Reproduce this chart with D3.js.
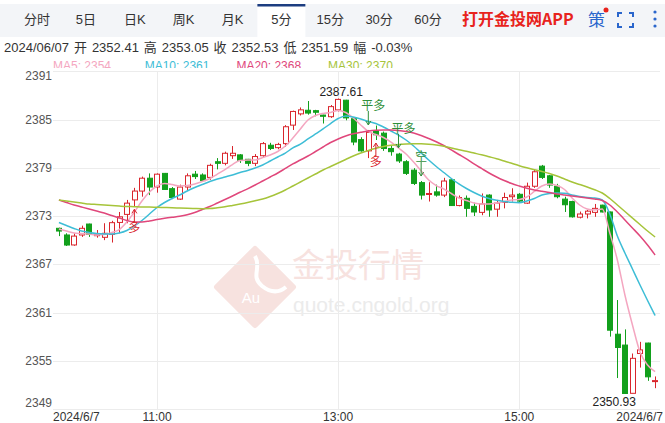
<!DOCTYPE html>
<html><head><meta charset="utf-8">
<script src="https://cdn.jsdelivr.net/npm/d3@7"></script>
<style>
body{margin:0;background:#fff;}
svg{display:block;font-family:"Liberation Sans",Arial,"Noto Sans CJK SC",sans-serif;}
</style></head><body>
<svg id="c" width="665" height="423"></svg>
<script>
const times = ["09:55","10:00","10:05","10:10","10:15","10:20","10:25","10:30","10:35","10:40","10:45","10:50","10:55",
"11:00","11:05","11:10","11:15","11:20","11:25","11:30","11:35","11:40","11:45","11:50","11:55",
"12:00","12:05","12:10","12:15","12:20","12:25","12:30","12:35","12:40","12:45","12:50","12:55",
"13:00","13:05","13:10","13:15","13:20","13:25","13:30","13:35","13:40","13:45","13:50","13:55",
"14:00","14:05","14:10","14:15","14:20","14:25","14:30","14:35","14:40","14:45","14:50","14:55",
"15:00","15:05","15:10","15:15","15:20","15:25","15:30","15:35","15:40","15:45","15:50","15:55",
"16:00","16:05","16:10","16:15","16:20","16:25","16:30"];
const open = [2371.47,2370.64,2369.40,2370.64,2372.00,2370.55,2370.35,2370.72,2372.20,2373.20,2375.00,2376.10,2377.70,2376.60,2378.30,2376.40,2375.10,2376.60,2378.20,2378.10,
2377.80,2379.75,2379.55,2380.50,2380.60,2380.05,2379.55,2380.50,2381.80,2381.50,2382.00,2384.30,2385.70,2386.15,2386.10,2385.55,2385.35,2386.20,2387.40,2385.10,
2382.50,2381.10,2383.60,2383.30,2381.40,2380.70,2379.75,2378.70,2377.15,2375.70,2376.00,2375.60,2377.50,2374.30,2375.20,2374.20,2373.45,2375.60,2373.85,2374.70,
2375.40,2375.70,2374.60,2376.70,2379.20,2378.00,2376.70,2375.10,2374.80,2372.85,2373.25,2373.45,2374.35,2373.50,2358.30,2356.95,2350.95,2355.90,2357.20,2352.41];
const high = [2371.55,2370.85,2370.85,2371.80,2372.05,2371.26,2372.10,2372.40,2373.50,2375.00,2376.50,2377.90,2378.30,2378.30,2378.35,2376.60,2376.90,2378.30,2378.60,2378.30,
2379.50,2380.20,2381.00,2381.70,2380.70,2380.10,2380.70,2382.20,2382.10,2382.10,2384.30,2386.10,2386.50,2387.30,2386.20,2385.60,2386.80,2387.61,2387.45,2385.30,
2382.80,2383.70,2384.25,2383.50,2381.70,2380.85,2379.95,2378.95,2377.35,2377.20,2376.90,2377.75,2377.70,2375.55,2375.55,2374.65,2375.80,2375.70,2375.00,2375.90,
2376.45,2375.85,2377.15,2378.80,2379.35,2378.10,2377.00,2375.40,2374.90,2373.55,2373.75,2374.50,2374.40,2373.55,2362.55,2358.90,2355.90,2357.35,2357.25,2353.05];
const low = [2370.50,2369.27,2369.30,2370.40,2370.40,2370.30,2370.00,2369.70,2370.85,2372.10,2374.20,2375.40,2375.60,2375.90,2376.30,2375.10,2375.00,2376.20,2377.60,2377.30,
2377.50,2378.80,2379.30,2380.10,2379.60,2379.20,2379.20,2380.30,2381.20,2381.30,2381.60,2383.70,2385.50,2385.60,2385.40,2384.50,2385.20,2386.00,2384.90,2381.80,
2381.00,2380.20,2382.45,2381.10,2380.50,2379.60,2378.10,2376.85,2375.05,2374.80,2375.40,2375.35,2374.25,2374.20,2372.90,2373.00,2373.10,2372.90,2372.90,2373.95,
2374.80,2374.75,2374.50,2376.50,2377.60,2376.50,2375.20,2373.50,2372.80,2372.70,2372.70,2372.90,2373.45,2358.00,2352.85,2350.93,2350.95,2354.15,2352.50,2351.59];
const close = [2371.13,2369.39,2370.50,2371.47,2370.70,2370.72,2370.85,2372.17,2372.90,2374.60,2376.10,2377.70,2376.60,2378.20,2376.30,2375.30,2376.60,2378.00,2377.90,2377.40,
2379.30,2379.55,2380.80,2380.80,2379.90,2379.55,2380.40,2382.00,2381.40,2381.90,2384.10,2386.00,2386.20,2385.80,2385.90,2385.40,2386.60,2387.50,2385.20,2382.20,
2381.10,2383.40,2383.10,2381.40,2381.00,2379.85,2378.30,2377.05,2375.60,2375.80,2375.60,2377.35,2374.30,2375.30,2373.95,2373.50,2374.50,2373.75,2374.60,2375.30,
2375.60,2374.85,2376.70,2378.50,2377.80,2376.85,2375.40,2374.40,2372.90,2373.25,2373.60,2373.95,2373.50,2358.80,2356.65,2350.93,2355.30,2356.35,2353.00,2352.53];
const ma5 = [2371.38,2371.13,2370.89,2370.82,2370.76,2370.64,2370.70,2370.95,2371.32,2372.25,2373.50,2374.87,2375.98,2376.73,2377.04,2376.92,2376.73,2376.79,2376.98,2377.29,
2377.66,2378.22,2378.78,2379.40,2379.90,2379.96,2379.96,2380.27,2380.59,2381.02,2381.70,2382.70,2383.82,2384.94,2385.50,2385.75,2385.87,2386.12,2385.87,2385.19,
2384.32,2383.51,2383.13,2382.76,2382.20,2381.46,2380.71,2379.71,2378.60,2377.48,2376.79,2376.36,2375.80,2375.24,2374.93,2374.62,2374.49,2374.49,2374.62,2374.80,
2374.99,2375.05,2375.36,2376.05,2376.73,2376.98,2376.79,2376.30,2375.24,2374.37,2373.87,2373.75,2373.87,2370.89,2367.53,2363.18,2359.45,2356.09,2354.47,2353.64];
const ma10 = [2372.19,2371.82,2371.45,2371.13,2370.95,2370.82,2370.76,2370.76,2370.89,2371.20,2371.76,2372.44,2373.25,2374.06,2374.68,2375.18,2375.61,2376.11,2376.54,2376.92,
2377.29,2377.60,2377.85,2378.10,2378.41,2378.66,2378.97,2379.34,2379.84,2380.34,2380.83,2381.46,2381.95,2382.58,2383.20,2383.82,2384.50,2385.12,2385.44,2385.31,
2385.06,2384.75,2384.50,2384.07,2383.57,2383.07,2382.45,2381.70,2380.83,2379.96,2379.16,2378.41,2377.66,2376.98,2376.42,2375.92,2375.49,2375.18,2374.95,2374.80,
2374.70,2374.65,2374.87,2375.18,2375.61,2375.80,2375.86,2375.82,2375.61,2375.42,2375.30,2375.24,2374.99,2373.25,2370.51,2368.40,2366.41,2364.42,2362.49,2360.63];
const ma20 = [2374.99,2374.68,2374.37,2374.12,2373.87,2373.62,2373.37,2373.06,2372.75,2372.44,2372.25,2372.25,2372.38,2372.56,2372.71,2372.84,2372.96,2373.15,2373.44,2373.81,
2374.18,2374.62,2375.05,2375.49,2375.95,2376.38,2376.85,2377.35,2377.85,2378.35,2378.91,2379.47,2379.96,2380.46,2381.02,2381.58,2382.14,2382.58,2382.95,2383.22,
2383.41,2383.57,2383.66,2383.69,2383.69,2383.63,2383.51,2383.32,2383.01,2382.64,2382.24,2381.77,2381.21,2380.65,2380.09,2379.47,2378.91,2378.35,2377.85,2377.41,
2377.04,2376.73,2376.44,2376.23,2376.07,2375.92,2375.74,2375.61,2375.49,2375.36,2375.24,2375.11,2374.93,2374.37,2373.50,2372.50,2371.51,2370.51,2369.39,2368.15];
const ma30 = [2374.99,2374.87,2374.74,2374.62,2374.49,2374.43,2374.37,2374.31,2374.24,2374.18,2374.16,2374.12,2374.12,2374.08,2374.06,2374.03,2373.99,2373.96,2373.93,2373.91,
2373.93,2374.02,2374.14,2374.31,2374.49,2374.68,2374.89,2375.11,2375.42,2375.80,2376.23,2376.73,2377.23,2377.73,2378.22,2378.72,2379.16,2379.59,2380.03,2380.46,
2380.83,2381.15,2381.42,2381.64,2381.79,2381.89,2381.95,2381.98,2381.98,2381.93,2381.83,2381.67,2381.46,2381.24,2381.05,2380.83,2380.61,2380.37,2380.13,2379.84,
2379.55,2379.25,2378.99,2378.75,2378.53,2378.28,2377.97,2377.60,2377.23,2376.92,2376.61,2376.27,2375.86,2375.18,2374.37,2373.56,2372.75,2371.94,2371.13,2370.39];
const yTicks = [2349,2355,2361,2367,2373,2379,2385,2391];
const xTicks = ["11:00","13:00","15:00"];
const dateLabel = "2024/6/7";
const tabs = ["分时","5日","日K","周K","月K","5分","15分","30分","60分"];
const activeTab = "5分";
const infoText = "2024/06/07 开 2352.41 高 2353.05 收 2352.53 低 2351.59 幅 -0.03%";
const maNames = ["MA5","MA10","MA20","MA30"];
const maLast = [2354,2361,2368,2370];
const maColors = ["#f4a6c0","#3dbdd6","#e0477b","#a6c43a"];
const annotations = [
  {i:10,text:"多",kind:"long"},
  {i:41,text:"平多",kind:"close"},
  {i:42,text:"多",kind:"long"},
  {i:45,text:"平多",kind:"close"},
  {i:48,text:"空",kind:"short"}];

const RED="#d9252c", GREEN="#12a01c";
const svg = d3.select("#c");
const x = d3.scaleBand().domain(times).range([54,660]).padding(0.3);
const xc = t => x(t) + x.bandwidth()/2;
const y = d3.scaleLinear().domain([2349,2391]).range([409,71.25]);

svg.append("defs").append("clipPath").attr("id","legclip").append("rect")
  .attr("x",0).attr("y",40).attr("width",665).attr("height",28);

// tab bar
svg.append("rect").attr("x",0).attr("y",4).attr("width",665).attr("height",33).attr("fill","#f3f5f8");
const tx = d3.scalePoint().domain(tabs).range([37,428]);
svg.append("rect").attr("x",tx(activeTab)-24).attr("y",4).attr("width",48).attr("height",33).attr("fill","#fff");
svg.append("rect").attr("x",tx(activeTab)-24).attr("y",4).attr("width",48).attr("height",2.5).attr("fill","#1c3d80");
svg.selectAll(".tab").data(tabs).enter().append("text").attr("x",d=>tx(d)).attr("y",24)
  .attr("text-anchor","middle").attr("font-size",13).attr("fill","#333").text(d=>d);
svg.append("text").attr("x",462).attr("y",25).attr("font-size",16).attr("font-weight","bold")
  .attr("fill","#e8231c").attr("font-family","Noto Sans CJK SC, sans-serif").text("打开金投网APP");
svg.append("text").attr("x",588).attr("y",26).attr("font-size",17).attr("fill","#2a66cc").text("策");
svg.append("circle").attr("cx",606).attr("cy",10).attr("r",2.5).attr("fill","#e8231c");
const fs = svg.append("g").attr("stroke","#2a66cc").attr("stroke-width",2).attr("fill","none");
[[618,13,1,1],[633,13,-1,1],[618,27,1,-1],[633,27,-1,-1]].forEach(([a,b,dx,dy])=>{
  fs.append("path").attr("d",`M${a},${b+4*dy}V${b}H${a+4*dx}`);
});
[12,19,26].forEach(cy=>svg.append("circle").attr("cx",655).attr("cy",cy).attr("r",1.6).attr("fill","#2a66cc"));

// info
svg.append("text").attr("x",4).attr("y",52).attr("font-size",13).attr("word-spacing",1.3).attr("fill","#333").text(infoText);
svg.append("g").attr("clip-path","url(#legclip)").selectAll(".leg").data(maNames).enter().append("text")
  .attr("x",(d,i)=>53+i*91.7).attr("y",70).attr("font-size",12)
  .attr("fill",(d,i)=>maColors[i]).text((d,i)=>d+": "+maLast[i]);

// watermark
const wm = svg.append("g");
wm.append("path").attr("d","M255,249 L293,287 L255,325 L217,287 Z").attr("fill","#f7e2df")
  .attr("stroke","#f7e2df").attr("stroke-width",6).attr("stroke-linejoin","round");
wm.append("path").attr("d","M255,256 C262,268 250,276 262,286 C272,294 280,292 286,287").attr("fill","none").attr("stroke","#fff").attr("stroke-width",4);
wm.append("text").attr("x",251).attr("y",303).attr("text-anchor","middle").attr("font-size",15).attr("fill","#fff").text("Au");
wm.append("text").attr("x",292).attr("y",277).attr("font-size",33).attr("fill","#f7e2df").attr("font-family","Noto Sans CJK SC, sans-serif").text("金投行情");
wm.append("text").attr("x",293).attr("y",312).attr("font-size",21).attr("fill","#ebebeb").text("quote.cngold.org");

// grid
const grid = svg.append("g");
grid.selectAll("line.h").data(yTicks).enter().append("line")
  .attr("x1",53).attr("x2",660).attr("y1",d=>Math.round(y(d))+0.5).attr("y2",d=>Math.round(y(d))+0.5)
  .attr("stroke","#ececec");
grid.selectAll("line.v").data(xTicks).enter().append("line")
  .attr("x1",d=>Math.round(xc(d))+0.5).attr("x2",d=>Math.round(xc(d))+0.5).attr("y1",y(2391)).attr("y2",y(2349))
  .attr("stroke","#ececec");

// y labels
svg.selectAll(".yl").data(yTicks).enter().append("text")
  .attr("x",52).attr("text-anchor","end").attr("font-size",12).attr("fill","#555")
  .attr("y",d=> d===2391 ? y(d)+9 : d===2349 ? y(d)-2 : y(d)+4).text(d=>d);
// x labels
svg.selectAll(".xl").data(xTicks).enter().append("text")
  .attr("x",d=>xc(d)).attr("y",421).attr("text-anchor","middle").attr("font-size",12).attr("fill","#333").text(d=>d);
svg.append("text").attr("x",53).attr("y",421).attr("font-size",12).attr("fill","#333").text(dateLabel);
svg.append("text").attr("x",663).attr("y",421).attr("text-anchor","end").attr("font-size",12).attr("fill","#333").text(dateLabel);

// candles
const data = times.map((t,i)=>({t,o:open[i],h:high[i],l:low[i],c:close[i]}));
const cg = svg.append("g");
data.forEach(d=>{
  const up = d.c>=d.o, col = up?RED:GREEN;
  const cx = Math.round(xc(d.t))+0.5;
  cg.append("line").attr("x1",cx).attr("x2",cx).attr("y1",y(d.h)).attr("y2",y(d.l)).attr("stroke",col);
  const top = y(Math.max(d.o,d.c)), bot = y(Math.min(d.o,d.c));
  cg.append("rect").attr("x",Math.round(x(d.t))+0.5).attr("width",Math.round(x.bandwidth()))
    .attr("y",top).attr("height",Math.max(1,bot-top))
    .attr("fill",up?"#fff":col).attr("stroke",col);
});

// moving averages
[ma5,ma10,ma20,ma30].forEach((arr,k)=>{
  svg.append("path").datum(arr).attr("fill","none").attr("stroke",maColors[k]).attr("stroke-width",1.5)
    .attr("d",d3.line().x((v,i)=>xc(times[i])).y(v=>y(v)).curve(d3.curveMonotoneX));
});

// max / min labels
const iMax = d3.maxIndex(high), iMin = d3.minIndex(low);
svg.append("text").attr("x",xc(times[iMax])+3).attr("y",y(high[iMax])-3).attr("text-anchor","middle")
  .attr("font-size",12).attr("fill","#222").text(high[iMax].toFixed(2));
svg.append("text").attr("x",xc(times[iMin])+11).attr("y",y(low[iMin])+12.5).attr("text-anchor","end")
  .attr("font-size",12).attr("fill","#222").text(low[iMin].toFixed(2));

// signal annotations
const ag = svg.append("g").attr("font-family","Noto Sans CJK SC, sans-serif");
annotations.forEach(a=>{
  const t = times[a.i], cx = xc(t);
  if(a.kind==="long"){
    const yl = y(low[a.i]);
    ag.append("path").attr("d",`M${cx},${yl+16}V${yl+3}M${cx-2.5},${yl+7}L${cx},${yl+3}L${cx+2.5},${yl+7}`)
      .attr("stroke",RED).attr("fill","none");
    ag.append("text").attr("x",cx).attr("y",yl+26).attr("text-anchor","middle").attr("font-size",12).attr("fill",RED).text(a.text);
  } else {
    const yh = y(high[a.i]);
    const col = "#2f8f3a";
    ag.append("path").attr("d",`M${cx},${yh-19}V${yh-5}M${cx-2.5},${yh-9}L${cx},${yh-5}L${cx+2.5},${yh-9}`)
      .attr("stroke",col).attr("fill","none");
    ag.append("text").attr("x",cx+(a.kind==="close"?5:0)).attr("y",yh-20).attr("text-anchor","middle").attr("font-size",12).attr("fill",col).text(a.text);
  }
});
</script>
</body></html>
